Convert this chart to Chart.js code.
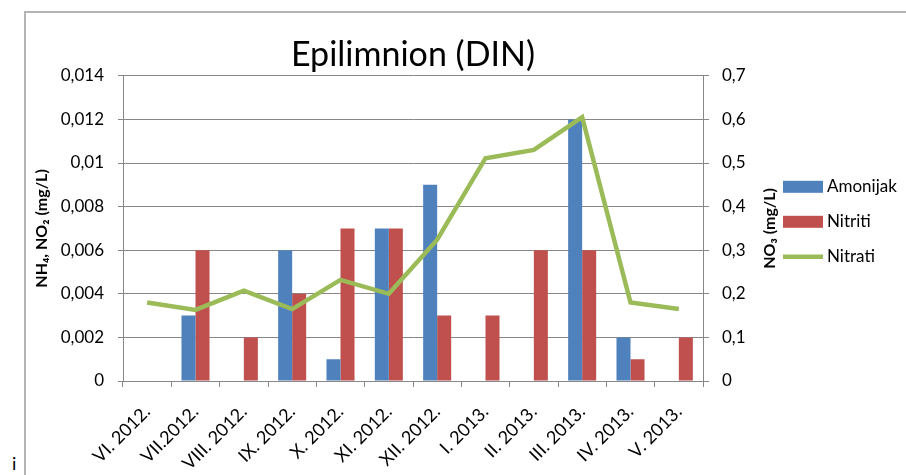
<!DOCTYPE html>
<html>
<head>
<meta charset="utf-8">
<script src="https://cdn.jsdelivr.net/npm/chart.js@4"></script>
<style>
  body { margin: 0; background: #fff; }
  #wrap { position: relative; width: 906px; height: 475px; overflow: hidden; }
  #frame { position: absolute; left: 24px; top: 11px; width: 1000px; height: 600px;
           border-left: 2px solid #b4b4b4; border-top: 2px solid #b4b4b4; }
  #stray { position: absolute; left: 12px; top: 452px; font: 18px Lato, sans-serif; color: #000; }
  canvas { position: absolute; left: 0; top: 0; }
</style>
</head>
<body>
<div id="wrap">
  <div id="frame"></div>
  <span id="stray">i</span>
  <canvas id="dinChart" width="906" height="475"></canvas>
</div>
<script>
// data
const months = ['VI. 2012.', 'VII.2012.', 'VIII. 2012.', 'IX. 2012.', 'X. 2012.', 'XI. 2012.',
                'XII. 2012.', 'I. 2013.', 'II. 2013.', 'III. 2013.', 'IV. 2013.', 'V. 2013.'];
const amonijak = [0, 0.003, 0, 0.006, 0.001, 0.007, 0.009, 0, 0, 0.012, 0.002, 0];
const nitriti = [0, 0.006, 0.002, 0.004, 0.007, 0.007, 0.003, 0.003, 0.006, 0.006, 0.001, 0.002];
const nitrati = [0.18, 0.163, 0.207, 0.165, 0.232, 0.2, 0.324, 0.511, 0.53, 0.605, 0.18, 0.165];
const leftTicks = ['0', '0,002', '0,004', '0,006', '0,008', '0,01', '0,012', '0,014'];
const rightTicks = ['0', '0,1', '0,2', '0,3', '0,4', '0,5', '0,6', '0,7'];
const leftTitle = 'NH\u2084, NO\u2082 (mg/L)';
const rightTitle = 'NO\u2083 (mg/L)';

Chart.defaults.font.family = 'Lato';
Chart.defaults.color = '#000';

const axisGray = '#878787';

// right axis title (reads bottom-up like the left one) and the legend
const sideText = {
  id: 'sideText',
  afterDraw(chart) {
    const { ctx, chartArea, scales } = chart;
    const midY = (chartArea.top + chartArea.bottom) / 2;
    ctx.save();
    ctx.font = 'bold 16px Lato';
    ctx.fillStyle = '#000';
    ctx.textAlign = 'center';
    ctx.textBaseline = 'middle';
    ctx.translate(scales.y1.right + 7, midY);
    ctx.rotate(-Math.PI / 2);
    ctx.fillText(rightTitle, 0, 0);
    ctx.restore();

    ctx.save();
    ctx.font = '17px Lato';
    ctx.textBaseline = 'middle';
    ctx.textAlign = 'left';
    const x0 = scales.y1.right + 20;
    chart.data.datasets.forEach((ds, i) => {
      const y = chartArea.top + 111 + i * 35;
      if (ds.type === 'line') {
        ctx.strokeStyle = ds.borderColor;
        ctx.lineWidth = ds.borderWidth;
        ctx.beginPath();
        ctx.moveTo(x0, y);
        ctx.lineTo(x0 + 40, y);
        ctx.stroke();
      } else {
        ctx.fillStyle = ds.backgroundColor;
        ctx.fillRect(x0, y - 6, 40, 12);
      }
      ctx.fillStyle = '#000';
      ctx.fillText(ds.label, x0 + 44, y);
    });
    ctx.restore();
  }
};

const ctx = document.getElementById('dinChart').getContext('2d');
new Chart(ctx, {
  type: 'bar',
  data: {
    labels: months,
    datasets: [
      {
        label: 'Amonijak',
        data: amonijak,
        backgroundColor: '#4F81BD',
        yAxisID: 'y',
        order: 1
      },
      {
        label: 'Nitriti',
        data: nitriti,
        backgroundColor: '#C0504D',
        yAxisID: 'y',
        order: 1
      },
      {
        type: 'line',
        label: 'Nitrati',
        data: nitrati,
        borderColor: '#9BBB59',
        backgroundColor: '#9BBB59',
        borderWidth: 4.5,
        pointRadius: 0,
        tension: 0,
        yAxisID: 'y1',
        order: 0
      }
    ]
  },
  options: {
    responsive: false,
    animation: false,
    layout: { padding: { left: 0, right: 143, top: 0, bottom: 0 } },
    datasets: {
      bar: { categoryPercentage: 0.58, barPercentage: 1 }
    },
    plugins: {
      legend: { display: false },
      tooltip: { enabled: false },
      title: {
        display: true,
        fullSize: false,
        text: 'Epilimnion (DIN)',
        color: '#000',
        font: { size: 34, weight: 'normal' },
        padding: { top: 35, bottom: 0 }
      }
    },
    scales: {
      x: {
        grid: { drawOnChartArea: false, drawTicks: true, tickLength: 6, color: axisGray, offset: true },
        border: { color: axisGray },
        ticks: { font: { size: 18 }, color: '#000', minRotation: 45, maxRotation: 45, padding: 14, autoSkip: false },
        afterFit(scale) { scale.height = 94; }
      },
      y: {
        position: 'left',
        min: 0,
        max: 0.014,
        ticks: {
          stepSize: 0.002,
          font: { size: 17 },
          color: '#000',
          padding: 14,
          callback: (v, i) => leftTicks[i]
        },
        grid: { color: axisGray, tickLength: 5 },
        border: { color: axisGray },
        title: {
          display: true,
          text: leftTitle,
          color: '#000',
          font: { size: 16, weight: 'bold' },
          padding: { top: 32, bottom: 0 }
        },
        afterFit(scale) { scale.width = 123; }
      },
      y1: {
        position: 'right',
        min: 0,
        max: 0.7,
        ticks: {
          stepSize: 0.1,
          font: { size: 17 },
          color: '#000',
          padding: 13,
          callback: (v, i) => rightTicks[i]
        },
        grid: { drawOnChartArea: false, color: axisGray, tickLength: 6 },
        border: { color: axisGray },
        afterFit(scale) { scale.width = 60; }
      }
    }
  },
  plugins: [sideText]
});
</script>
</body>
</html>
